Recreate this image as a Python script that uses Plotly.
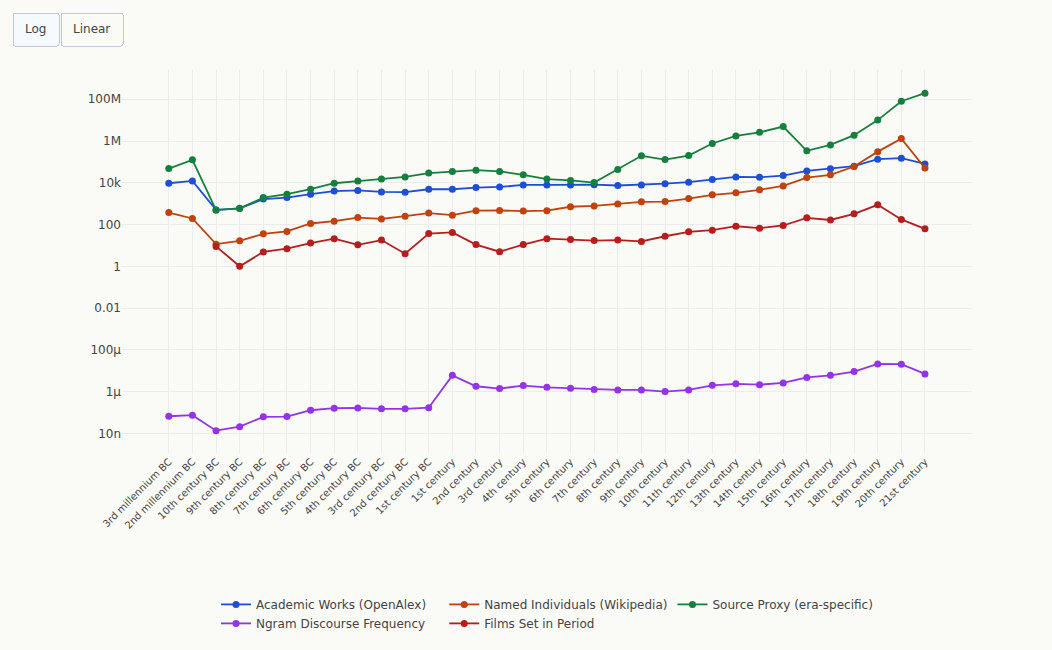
import plotly.graph_objects as go

periods = [
    "3rd millennium BC", "2nd millennium BC", "10th century BC", "9th century BC",
    "8th century BC", "7th century BC", "6th century BC", "5th century BC",
    "4th century BC", "3rd century BC", "2nd century BC", "1st century BC",
    "1st century", "2nd century", "3rd century", "4th century", "5th century",
    "6th century", "7th century", "8th century", "9th century", "10th century",
    "11th century", "12th century", "13th century", "14th century", "15th century",
    "16th century", "17th century", "18th century", "19th century", "20th century",
    "21st century",
]

academic_works = [
    9500, 12300, 500, 600, 1650, 1950, 2850, 4000, 4300, 3650, 3550, 4900,
    4900, 5900, 6300, 7900, 7900, 7900, 8100, 7400, 7900, 9100, 10700, 14200,
    19000, 18500, 22000, 37000, 46500, 62000, 135000, 150000, 80000,
]

named_individuals = [
    375, 195, 11.5, 16.6, 36, 47, 112, 145, 215, 185, 250, 355,
    280, 460, 470, 440, 460, 710, 780, 950, 1230, 1260, 1750, 2650,
    3300, 4600, 7100, 17800, 24000, 60000, 310000, 1300000, 51000,
]

source_proxy = [
    48000, 126000, 490, 590, 1950, 2850, 4900, 9500, 12000, 15000, 19000, 29000,
    35000, 40000, 35000, 24000, 15000, 13000, 10200, 43000, 195000, 129000,
    200000, 760000, 1750000, 2600000, 4900000, 340000, 650000, 1900000,
    10000000, 80000000, 195000000,
]

ngram_frequency = [
    6.6e-8, 7.4e-8, 1.35e-8, 2.1e-8, 6.2e-8, 6.4e-8, 1.28e-7, 1.6e-7, 1.65e-7,
    1.5e-7, 1.5e-7, 1.7e-7, 6e-6, 1.8e-6, 1.4e-6, 1.95e-6, 1.6e-6, 1.45e-6,
    1.25e-6, 1.2e-6, 1.2e-6, 1.0e-6, 1.2e-6, 2.0e-6, 2.35e-6, 2.15e-6, 2.6e-6,
    4.8e-6, 6e-6, 9.1e-6, 2.1e-5, 2.05e-5, 7e-6,
]

films_in_period = [
    None, None, 9, 1, 4.9, 7, 13, 21, 10.7, 18, 4, 37,
    42, 11, 5, 11, 21, 19, 17, 18, 15.5, 27.5, 45, 54,
    83, 67, 90, 210, 165, 325, 880, 175, 62,
]

series = [
    ("Academic Works (OpenAlex)", academic_works, "#1d4ed8"),
    ("Named Individuals (Wikipedia)", named_individuals, "#c2410c"),
    ("Source Proxy (era-specific)", source_proxy, "#15803d"),
    ("Ngram Discourse Frequency", ngram_frequency, "#9333ea"),
    ("Films Set in Period", films_in_period, "#b91c1c"),
]

FONT = "DejaVu Sans"
BG = "#fafaf7"

fig = go.Figure()
for name, vals, color in series:
    fig.add_trace(go.Scatter(
        x=periods, y=vals, name=name, mode="lines+markers",
        line=dict(color=color, width=1.8),
        marker=dict(color=color, size=7),
    ))

fig.update_layout(
    width=1052, height=650,
    paper_bgcolor=BG, plot_bgcolor=BG,
    font=dict(family=FONT, size=12, color="#444"),
    margin=dict(l=122, r=80, t=70, b=197),
    xaxis=dict(
        type="category", tickangle=-45, tickfont=dict(size=10),
        range=[-1.98, 33.99], gridcolor="#ececec", showline=False,
        zeroline=False,
    ),
    yaxis=dict(
        type="log", range=[-8.94, 9.40], dtick=2,
        gridcolor="#ececec", zeroline=False, tickfont=dict(size=12),
    ),
    legend=dict(
        orientation="h", x=0.5, xanchor="center", y=-0.3574, yanchor="top",
        font=dict(size=12),
    ),
    updatemenus=[dict(
        type="buttons", direction="right", showactive=True, active=0,
        x=-0.1295, xanchor="left", y=1.1516, yanchor="top",
        pad=dict(t=0, r=0, b=0, l=0),
        buttons=[
            dict(label="Log", method="relayout", args=[{"yaxis.type": "log"}]),
            dict(label="Linear", method="relayout", args=[{"yaxis.type": "linear"}]),
        ],
    )],
)

fig.write_html("out.html")
